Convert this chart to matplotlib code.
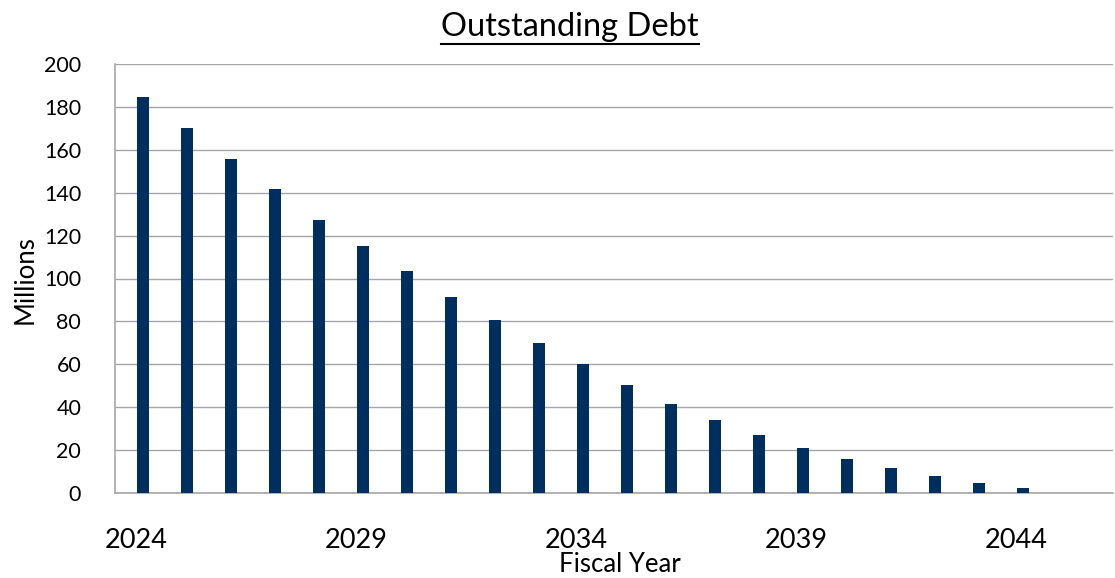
import numpy as np
import matplotlib
matplotlib.use("Agg")
import matplotlib.pyplot as plt
from matplotlib.lines import Line2D

plt.rcParams['font.family'] = ['Lato', 'DejaVu Sans']

years = list(range(2024, 2045))
debt = [184.5, 170, 155.5, 141.5, 127.5, 115, 103.5, 91.5, 80.5, 70, 60,
        50.5, 41.5, 34, 27, 21, 16, 11.5, 8, 4.5, 2.5]
label_years = [2024, 2029, 2034, 2039, 2044]

W, H = 1115, 578
fig = plt.figure(figsize=(W / 100, H / 100), dpi=100)
ax = fig.add_axes([114.5 / W, 85 / H, (1113 - 114.5) / W, (493 - 64) / H])

ax.bar(years, debt, width=0.28, color='#002E5F', zorder=3)

ax.set_xlim(2023.35, 2046.05)
ax.set_ylim(0, 200)
ax.set_yticks(np.arange(0, 201, 20))
ax.yaxis.grid(True, color='#a6a6a6', linewidth=1.0, zorder=0)
ax.set_xticks([y - 0.15 for y in label_years])
ax.set_xticklabels([str(y) for y in label_years], fontsize=19.5)
ax.tick_params(axis='x', length=0, pad=25)
ax.tick_params(axis='y', length=0, pad=24, labelsize=15.5)

for s in ['top', 'right']:
    ax.spines[s].set_visible(False)
for s in ['left', 'bottom']:
    ax.spines[s].set_color('#a6a6a6')
    ax.spines[s].set_linewidth(1.2)

fig.text(620 / W, 1 - 565 / H, 'Fiscal Year', fontsize=18.5, ha='center', va='center')
fig.text(25 / W, 1 - 280 / H, 'Millions', fontsize=18.5, ha='center', va='center',
         rotation=90)

title = fig.text(570 / W, 1 - 27 / H, 'Outstanding Debt', fontsize=23.5,
                 ha='center', va='center')
fig.canvas.draw()
bb = title.get_window_extent(fig.canvas.get_renderer())
uy = 1 - 44 / H
fig.add_artist(Line2D([bb.x0 / W, bb.x1 / W], [uy, uy], color='black',
                      linewidth=1.5, transform=fig.transFigure))

fig.savefig('out.png', dpi=100)
